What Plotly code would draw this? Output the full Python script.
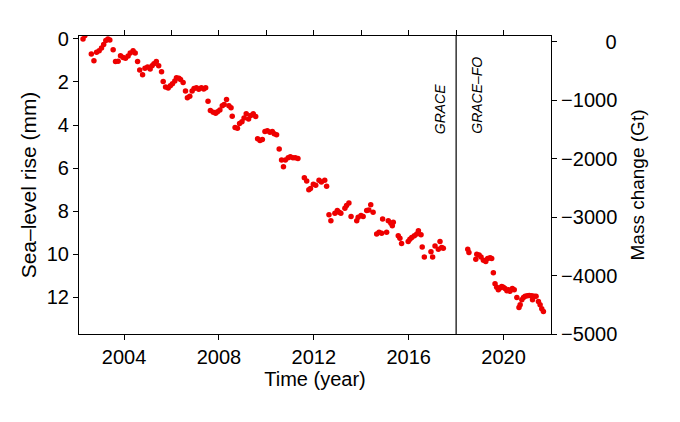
import plotly.graph_objs as go

# GRACE monthly points (year, sea-level rise in mm)
years_grace = [
    2002.27, 2002.35, 2002.62, 2002.73, 2002.84, 2002.95, 2003.05, 2003.14, 2003.23, 2003.32,
    2003.40, 2003.54, 2003.64, 2003.75, 2003.85, 2003.96, 2004.06, 2004.17, 2004.26, 2004.38,
    2004.47, 2004.57, 2004.66, 2004.78, 2004.88, 2004.99, 2005.10, 2005.18, 2005.26, 2005.36,
    2005.46, 2005.58, 2005.65, 2005.75, 2005.86, 2005.95, 2006.04, 2006.14, 2006.21, 2006.31,
    2006.38, 2006.49, 2006.59, 2006.67, 2006.77, 2006.87, 2006.95, 2007.05, 2007.15, 2007.26,
    2007.36, 2007.44, 2007.54, 2007.64, 2007.76, 2007.86, 2007.94, 2008.04, 2008.14, 2008.22,
    2008.32, 2008.42, 2008.51, 2008.56, 2008.68, 2008.78, 2008.87, 2008.97, 2009.06, 2009.15,
    2009.25, 2009.34, 2009.45, 2009.55, 2009.63, 2009.73, 2009.83, 2009.94, 2010.04, 2010.15,
    2010.25, 2010.33, 2010.43, 2010.54, 2010.64, 2010.72, 2010.80, 2010.92, 2011.01, 2011.12,
    2011.22, 2011.33, 2011.60, 2011.70, 2011.79, 2011.86, 2011.98, 2012.08, 2012.22, 2012.32,
    2012.46, 2012.54, 2012.64, 2012.72, 2012.89, 2012.99, 2013.07, 2013.14, 2013.31, 2013.38,
    2013.48, 2013.57, 2013.81, 2013.87, 2013.99, 2014.08, 2014.23, 2014.32, 2014.40, 2014.50,
    2014.65, 2014.75, 2014.86, 2014.90, 2015.07, 2015.14, 2015.25, 2015.31, 2015.35, 2015.56,
    2015.63, 2015.70, 2015.98, 2016.05, 2016.13, 2016.24, 2016.34, 2016.41, 2016.52, 2016.57,
    2016.66, 2016.94, 2017.01, 2017.11, 2017.25, 2017.32, 2017.39, 2017.46,
]
slr_grace = [
    0.00, -0.15, 0.70, 1.01, 0.62, 0.55, 0.42, 0.26, 0.08, 0.00,
    0.05, 0.51, 1.05, 1.04, 0.78, 0.86, 0.90, 0.80, 0.65, 0.55,
    0.65, 1.05, 1.45, 1.67, 1.36, 1.30, 1.40, 1.25, 1.15, 1.05,
    1.25, 1.52, 1.98, 2.23, 2.28, 2.17, 2.08, 1.95, 1.80, 1.83,
    1.88, 2.03, 2.42, 2.73, 2.66, 2.42, 2.30, 2.27, 2.34, 2.27,
    2.33, 2.27, 2.89, 3.33, 3.40, 3.45, 3.38, 3.30, 3.10, 3.05,
    2.81, 3.10, 3.20, 3.59, 4.11, 4.15, 3.93, 3.85, 3.67, 3.48,
    3.72, 3.56, 3.48, 3.60, 4.64, 4.72, 4.67, 4.30, 4.27, 4.33,
    4.30, 4.40, 4.45, 5.11, 5.62, 5.94, 5.62, 5.52, 5.47, 5.52,
    5.52, 5.55, 6.45, 6.60, 7.00, 6.95, 6.75, 6.80, 6.56, 6.64,
    6.56, 6.84, 8.16, 8.44, 8.09, 7.97, 8.05, 8.09, 7.86, 7.73,
    7.62, 8.25, 8.44, 8.28, 8.20, 8.25, 7.97, 7.94, 7.70, 8.05,
    9.06, 8.98, 9.02, 8.36, 8.98, 8.44, 8.56, 8.67, 8.51, 9.14,
    9.25, 9.50, 9.41, 9.30, 9.22, 9.14, 9.06, 8.91, 9.09, 9.66,
    10.13, 9.88, 10.13, 9.61, 9.77, 9.41, 9.69, 9.72,
]

# GRACE-FO monthly points
years_fo = [
    2018.49, 2018.54, 2018.83, 2018.87, 2018.97, 2019.05, 2019.15, 2019.25, 2019.33, 2019.43,
    2019.50, 2019.57, 2019.64, 2019.71, 2019.78, 2019.85, 2019.92, 2019.99, 2020.06, 2020.14,
    2020.20, 2020.27, 2020.37, 2020.45, 2020.56, 2020.65, 2020.70, 2020.77, 2020.84, 2020.91,
    2021.00, 2021.08, 2021.19, 2021.22, 2021.29, 2021.37, 2021.47, 2021.54, 2021.61, 2021.68,
]
slr_fo = [
    9.77, 9.92, 10.23, 10.00, 10.03, 10.13, 10.28, 10.34, 10.19, 10.16,
    10.19, 10.86, 11.37, 11.53, 11.64, 11.56, 11.49, 11.53, 11.59, 11.69,
    11.64, 11.72, 11.59, 11.64, 12.00, 12.47, 12.34, 12.11, 12.00, 11.95,
    11.92, 11.91, 11.92, 12.11, 11.95, 11.95, 12.19, 12.34, 12.53, 12.66,
]

mass_ticks = [0, -1000, -2000, -3000, -4000, -5000]
mass_labels = ["\u2007\u2007\u2007\u20070", "\u22121000", "\u22122000",
               "\u22123000", "\u22124000", "\u22125000"]
mission_switch = 2018.0

font = "Liberation Sans, Arial, Helvetica, sans-serif"
dot = dict(color="#ee0000", size=5.5)

fig = go.Figure()
fig.add_trace(go.Scatter(x=years_grace, y=slr_grace, mode="markers", marker=dot))
fig.add_trace(go.Scatter(x=years_fo, y=slr_fo, mode="markers", marker=dot))
# empty traces so the right and top axes get drawn
fig.add_trace(go.Scatter(x=[None], y=[None], yaxis="y2", mode="markers"))
fig.add_trace(go.Scatter(x=[None], y=[None], xaxis="x2", mode="markers"))

fig.add_shape(type="line", xref="x", yref="paper", x0=mission_switch, x1=mission_switch,
              y0=0, y1=1, line=dict(color="black", width=1.2))

fig.add_annotation(x=mission_switch, y=0.664, xref="x", yref="paper", text="GRACE",
                   textangle=-90, showarrow=False, xshift=-16, yanchor="bottom",
                   font=dict(size=14, style="italic", color="black"))
fig.add_annotation(x=mission_switch, y=0.664, xref="x", yref="paper", text="GRACE\u2013FO",
                   textangle=-90, showarrow=False, xshift=20, yanchor="bottom",
                   font=dict(size=14, style="italic", color="black"))

axis_common = dict(showgrid=False, zeroline=False, showline=True, linecolor="black",
                   linewidth=1.2, ticks="outside", ticklen=5, tickwidth=1.2, tickcolor="black")

# page body has an 8px margin, so the figure is 8px smaller and shifted
fig.update_layout(
    width=672, height=414,
    margin=dict(l=71, r=129, t=28, b=88),
    paper_bgcolor="white", plot_bgcolor="white",
    showlegend=False,
    font=dict(family=font, size=20, color="black"),
    xaxis=dict(range=[2002.1, 2022.0], tickvals=[2004, 2008, 2012, 2016, 2020],
               title=dict(text="Time (year)", font=dict(size=20), standoff=4), **axis_common),
    xaxis2=dict(range=[2002.1, 2022.0], overlaying="x", side="top", anchor="y",
                tickvals=[2004, 2006, 2008, 2010, 2012, 2014, 2016, 2018, 2020],
                showticklabels=False, **axis_common),
    yaxis=dict(range=[13.7, -0.134], tickvals=[0, 2, 4, 6, 8, 10, 12],
               title=dict(text="Sea\u2013level rise (mm)", font=dict(size=21), standoff=4),
               **axis_common),
    yaxis2=dict(range=[-5000, 97], overlaying="y", side="right", anchor="x",
                tickvals=mass_ticks, ticktext=mass_labels,
                title=dict(text="Mass change (Gt)", font=dict(size=19), standoff=14),
                **axis_common),
)

fig.write_html("out.html")
